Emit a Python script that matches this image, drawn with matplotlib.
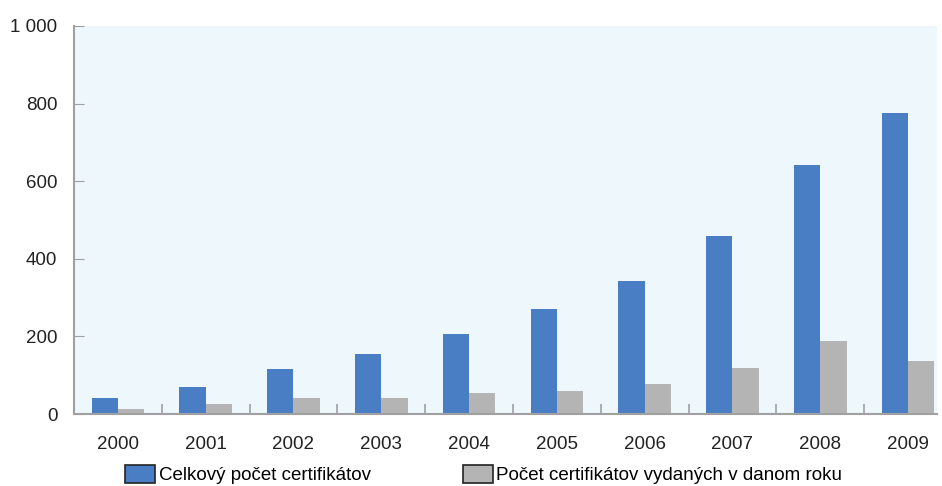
import numpy as np
import matplotlib.pyplot as plt
from matplotlib.ticker import FixedLocator

plt.rcParams['font.family'] = ['Liberation Sans', 'DejaVu Sans']

years = ['2000', '2001', '2002', '2003', '2004', '2005', '2006', '2007', '2008', '2009']
celkovy = [40, 69, 115, 155, 206, 270, 344, 460, 643, 777]
vydane = [13, 27, 40, 40, 54, 58, 77, 119, 188, 137]
y_ticks = [0, 200, 400, 600, 800, 1000]
y_labels = ['0', '200', '400', '600', '800', '1 000']

fig = plt.figure(figsize=(9.42, 4.86), dpi=100)
ax = fig.add_axes([74/942, (486-414)/486, (937-74)/942, (414-26)/486])
ax.set_facecolor('#eef7fb')

x = np.arange(len(years))
w = 0.3
ax.bar(x - w/2, celkovy, w, color='#4a7ec4', label='Celkový počet certifikátov', zorder=2)
ax.bar(x + w/2, vydane, w, color='#b4b4b4', label='Počet certifikátov vydaných v danom roku', zorder=2)

ax.set_xlim(-0.5, 9.33)
ax.set_ylim(0, 1000)

for s in ['top', 'right']:
    ax.spines[s].set_visible(False)
for s in ['left', 'bottom']:
    ax.spines[s].set_color('#a0a0a0')
    ax.spines[s].set_linewidth(1.5)

ax.set_yticks(y_ticks)
ax.set_yticklabels(y_labels)
ax.tick_params(axis='y', direction='in', length=7, color='#a0a0a0', pad=12, labelsize=13.5, labelcolor='#222222')

ax.set_xticks(x)
ax.set_xticklabels(years)
ax.tick_params(axis='x', which='major', length=0, pad=16, labelsize=13.5, labelcolor='#222222')
ax.xaxis.set_minor_locator(FixedLocator(np.arange(0.5, 9, 1)))
ax.tick_params(axis='x', which='minor', direction='in', length=7, color='#a0a0a0', width=1.2)

leg = fig.legend(loc='upper left', bbox_to_anchor=(125/942, (486-465)/486), ncol=2, frameon=False,
                 fontsize=13.5, handlelength=1.6, handleheight=1.1, handletextpad=0.2,
                 columnspacing=4.9, borderpad=0, borderaxespad=0)
for p in leg.get_patches():
    p.set_edgecolor('#222222')
    p.set_linewidth(1.2)

fig.savefig('out.png', dpi=100, facecolor='white')
